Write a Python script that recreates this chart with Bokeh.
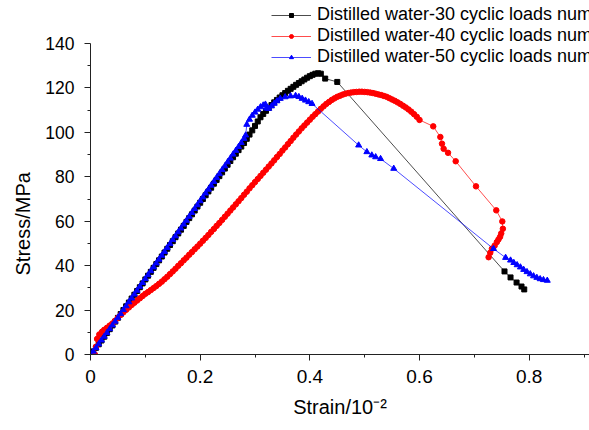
from bokeh.plotting import figure
from bokeh.models import Range1d, FixedTicker, Legend, LegendItem, Title
from bokeh.embed import file_html
from bokeh.resources import INLINE

labels = ["Distilled water-30 cyclic loads number",
          "Distilled water-40 cyclic loads number",
          "Distilled water-50 cyclic loads number"]

# (strain, stress) readings, 30 cyclic loads
curve_30 = [
    (0.000, 0.0), (0.005, 1.4), (0.010, 3.0), (0.015, 4.6), (0.020, 6.3), (0.025, 8.0),
    (0.030, 9.7), (0.035, 11.4), (0.040, 13.1), (0.045, 14.8), (0.050, 16.5), (0.055, 18.2),
    (0.060, 20.0), (0.065, 21.7), (0.070, 23.4), (0.075, 25.2), (0.080, 26.9), (0.085, 28.6),
    (0.090, 30.3), (0.095, 32.0), (0.100, 33.8), (0.105, 35.5), (0.110, 37.2), (0.115, 39.0),
    (0.120, 40.7), (0.125, 42.4), (0.130, 44.1), (0.135, 45.9), (0.140, 47.6), (0.145, 49.3),
    (0.150, 51.0), (0.155, 52.8), (0.160, 54.5), (0.165, 56.2), (0.170, 57.9), (0.175, 59.7),
    (0.180, 61.4), (0.185, 63.1), (0.190, 64.8), (0.195, 66.6), (0.200, 68.3), (0.205, 70.0),
    (0.210, 71.7), (0.215, 73.4), (0.220, 75.1), (0.225, 76.9), (0.230, 78.6), (0.235, 80.3),
    (0.240, 82.0), (0.245, 83.7), (0.250, 85.4), (0.255, 87.1), (0.260, 88.8), (0.265, 90.4),
    (0.270, 92.0), (0.275, 93.6), (0.280, 95.2), (0.285, 97.1), (0.290, 99.0), (0.295, 100.9),
    (0.300, 102.9), (0.305, 104.9), (0.310, 106.8), (0.315, 108.3), (0.320, 109.7), (0.325, 111.0),
    (0.330, 112.3), (0.335, 113.5), (0.340, 114.6), (0.345, 115.7), (0.350, 116.7), (0.355, 117.7),
    (0.360, 118.7), (0.365, 119.6), (0.370, 120.5), (0.375, 121.4), (0.380, 122.2), (0.385, 123.0),
    (0.390, 123.8), (0.395, 124.6), (0.400, 125.3), (0.405, 125.9), (0.410, 126.4), (0.415, 126.6),
    (0.420, 126.4), (0.428, 124.2), (0.450, 122.7),
    (0.755, 37.4), (0.766, 34.7), (0.777, 32.4), (0.786, 30.6), (0.791, 29.3),
]

# (strain, stress) readings, 40 cyclic loads
curve_40 = [
    (0.008, 0.0), (0.010, 3.5), (0.012, 7.0), (0.016, 9.0), (0.021, 10.2), (0.025, 11.1),
    (0.030, 12.0), (0.035, 13.0), (0.040, 14.0), (0.045, 15.2), (0.050, 16.5), (0.055, 17.8),
    (0.060, 19.0), (0.065, 20.1), (0.070, 21.2), (0.075, 22.3), (0.080, 23.3), (0.085, 24.3),
    (0.090, 25.3), (0.095, 26.3), (0.100, 27.3), (0.105, 28.1), (0.110, 29.0), (0.115, 29.9),
    (0.120, 30.8), (0.125, 31.8), (0.130, 32.8), (0.135, 33.9), (0.140, 35.0), (0.145, 36.2),
    (0.150, 37.4), (0.155, 38.6), (0.160, 39.9), (0.165, 41.1), (0.170, 42.4), (0.175, 43.6),
    (0.180, 44.9), (0.185, 46.1), (0.190, 47.4), (0.195, 48.6), (0.200, 49.9), (0.205, 51.2),
    (0.210, 52.5), (0.215, 53.8), (0.220, 55.2), (0.225, 56.5), (0.230, 57.9), (0.235, 59.2),
    (0.240, 60.6), (0.245, 62.0), (0.250, 63.4), (0.255, 64.8), (0.260, 66.2), (0.265, 67.6),
    (0.270, 69.0), (0.275, 70.4), (0.280, 71.9), (0.285, 73.3), (0.290, 74.8), (0.295, 76.2),
    (0.300, 77.6), (0.305, 79.0), (0.310, 80.4), (0.315, 81.8), (0.320, 83.2), (0.325, 84.6),
    (0.330, 86.0), (0.335, 87.4), (0.340, 88.9), (0.345, 90.3), (0.350, 91.8), (0.355, 93.2),
    (0.360, 94.7), (0.365, 96.1), (0.370, 97.6), (0.375, 99.0), (0.380, 100.4), (0.385, 101.8),
    (0.390, 103.1), (0.395, 104.4), (0.400, 105.7), (0.405, 107.0), (0.410, 108.2), (0.415, 109.4),
    (0.420, 110.6), (0.425, 111.7), (0.430, 112.8), (0.435, 113.7), (0.440, 114.6), (0.445, 115.3),
    (0.450, 116.0), (0.455, 116.5), (0.460, 117.0), (0.465, 117.4), (0.470, 117.7), (0.475, 117.9),
    (0.480, 118.1), (0.485, 118.2), (0.490, 118.3), (0.495, 118.3), (0.500, 118.2), (0.505, 118.1),
    (0.510, 117.9), (0.515, 117.7), (0.520, 117.4), (0.525, 117.1), (0.530, 116.8), (0.535, 116.4),
    (0.540, 116.0), (0.545, 115.4), (0.550, 114.8), (0.555, 114.2), (0.560, 113.5), (0.565, 112.8),
    (0.570, 112.0), (0.575, 111.2), (0.580, 110.3), (0.585, 109.3), (0.590, 108.2), (0.595, 107.0),
    (0.600, 105.6), (0.625, 102.7), (0.638, 97.9), (0.641, 94.9), (0.644, 92.6), (0.652, 90.8),
    (0.666, 87.0), (0.703, 75.7), (0.740, 64.9), (0.751, 59.9), (0.752, 56.6), (0.749, 54.5),
    (0.747, 53.0), (0.744, 51.8), (0.741, 50.6), (0.737, 49.0), (0.732, 47.6), (0.729, 45.8),
    (0.726, 43.8),
]

# (strain, stress) readings, 50 cyclic loads
curve_50 = [
    (0.000, 0.0), (0.005, 1.4), (0.010, 3.0), (0.015, 4.7), (0.020, 6.4), (0.025, 8.1),
    (0.030, 9.8), (0.035, 11.5), (0.040, 13.2), (0.045, 14.9), (0.050, 16.6), (0.055, 18.3),
    (0.060, 20.1), (0.065, 21.8), (0.070, 23.6), (0.075, 25.3), (0.080, 27.1), (0.085, 28.8),
    (0.090, 30.6), (0.095, 32.3), (0.100, 34.1), (0.105, 35.8), (0.110, 37.6), (0.115, 39.3),
    (0.120, 41.1), (0.125, 42.8), (0.130, 44.6), (0.135, 46.3), (0.140, 48.1), (0.145, 49.8),
    (0.150, 51.6), (0.155, 53.3), (0.160, 55.1), (0.165, 56.8), (0.170, 58.6), (0.175, 60.3),
    (0.180, 62.1), (0.185, 63.8), (0.190, 65.6), (0.195, 67.3), (0.200, 69.1), (0.205, 70.8),
    (0.210, 72.6), (0.215, 74.3), (0.220, 76.1), (0.225, 77.8), (0.230, 79.6), (0.235, 81.3),
    (0.240, 83.1), (0.245, 84.8), (0.250, 86.6), (0.255, 88.3), (0.260, 90.1), (0.265, 91.8),
    (0.270, 93.5), (0.275, 95.3), (0.280, 97.2), (0.283, 98.7),
    (0.285, 103.5), (0.290, 105.8), (0.295, 107.6), (0.300, 109.0), (0.305, 110.3), (0.310, 111.4),
    (0.315, 112.2), (0.319, 112.6), (0.321, 110.8), (0.325, 110.7), (0.330, 111.8), (0.335, 113.0),
    (0.340, 114.1), (0.346, 115.2), (0.355, 115.9), (0.365, 116.3), (0.374, 116.5), (0.380, 116.0),
    (0.386, 115.2), (0.392, 114.4), (0.398, 113.7), (0.404, 112.9),
    (0.489, 94.2), (0.504, 91.2), (0.513, 89.7), (0.520, 88.9), (0.529, 88.1), (0.553, 83.7),
    (0.735, 47.6), (0.757, 43.6), (0.766, 42.4), (0.772, 41.3), (0.778, 40.3), (0.784, 39.3),
    (0.790, 38.2), (0.796, 37.2), (0.802, 36.2), (0.808, 35.3), (0.814, 34.6), (0.820, 34.0),
    (0.826, 33.6), (0.833, 33.3),
]

strain_30 = [c[0] for c in curve_30]
stress_30 = [c[1] for c in curve_30]
strain_40 = [c[0] for c in curve_40]
stress_40 = [c[1] for c in curve_40]
strain_50 = [c[0] for c in curve_50]
stress_50 = [c[1] for c in curve_50]

x_ticks = [0.0, 0.2, 0.4, 0.6, 0.8]
x_minor = [0.1, 0.3, 0.5, 0.7, 0.9]
y_ticks = [0, 20, 40, 60, 80, 100, 120, 140]
y_minor = [10, 30, 50, 70, 90, 110, 130]

FONT = "Liberation Sans"

p = figure(width=589, height=430, output_backend="svg", toolbar_location=None,
           x_range=Range1d(0, 0.91), y_range=Range1d(0, 159.36),
           min_border_left=90, min_border_right=0, min_border_top=0,
           min_border_bottom=76)
p.outline_line_color = None
p.grid.visible = False
p.background_fill_color = "white"
p.border_fill_color = "white"

l30 = p.line(strain_30, stress_30, line_color="black", line_width=1, line_alpha=0.7)
s30 = p.scatter(strain_30, stress_30, marker="square", size=5, fill_color="black",
                line_color="black")
l40 = p.line(strain_40, stress_40, line_color="red", line_width=1, line_alpha=0.7)
s40 = p.scatter(strain_40, stress_40, marker="circle", size=5.5, fill_color="red",
                line_color="red")
l50 = p.line(strain_50, stress_50, line_color="blue", line_width=1, line_alpha=0.7)
s50 = p.scatter(strain_50, stress_50, marker="triangle", size=6, fill_color="blue",
                line_color="blue")

for ax, tk, mn in ((p.xaxis[0], x_ticks, x_minor), (p.yaxis[0], y_ticks, y_minor)):
    ax.ticker = FixedTicker(ticks=tk, minor_ticks=mn)
    ax.axis_line_color = "#222222"
    ax.major_tick_line_color = "#222222"
    ax.minor_tick_line_color = "#222222"
    ax.major_tick_in = 0
    ax.major_tick_out = 6
    ax.minor_tick_in = 0
    ax.minor_tick_out = 3
    ax.major_label_text_font = FONT
    ax.axis_label_text_font = FONT
    ax.major_label_text_color = "black"
    ax.axis_label_text_color = "black"
    ax.axis_label_text_font_style = "normal"

p.yaxis.bounds = (0, 140)
p.xaxis.major_label_text_font_size = "19px"
p.yaxis.major_label_text_font_size = "17.5px"
p.xaxis.axis_label = "Strain/10\u207b\u00b2"
p.xaxis.axis_label_text_font_size = "20px"
p.xaxis.major_label_standoff = 9
p.yaxis.major_label_standoff = 10
p.xaxis.axis_label_standoff = 10

ytitle = Title(text="Stress/MPa", align="left", offset=79, standoff=18,
               text_font=FONT, text_font_size="20px", text_font_style="normal",
               text_color="black")
p.add_layout(ytitle, "left")

legend = Legend(items=[LegendItem(label=labels[0], renderers=[l30, s30]),
                       LegendItem(label=labels[1], renderers=[l40, s40]),
                       LegendItem(label=labels[2], renderers=[l50, s50])],
                location=(181, 287), padding=0, spacing=-3, margin=0,
                glyph_width=40, glyph_height=10, label_height=20, label_standoff=6,
                label_text_font=FONT, label_text_font_size="18px",
                label_text_color="black",
                background_fill_alpha=0, border_line_alpha=0)
p.add_layout(legend, "center")

open("out.html", "w").write(file_html(p, INLINE))
